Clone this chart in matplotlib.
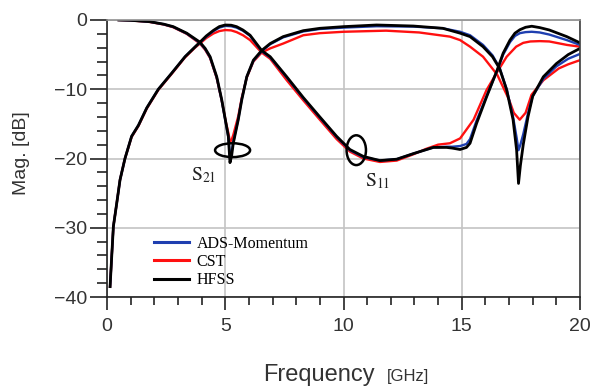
import numpy as np
import matplotlib.pyplot as plt
from matplotlib.patches import Ellipse
from matplotlib.ticker import MultipleLocator

plt.rcParams['font.family'] = ['Liberation Sans', 'DejaVu Sans']
plt.rcParams['mathtext.fontset'] = 'stix'

# S21 (curve starting at 0 dB) -- HFSS, ADS, CST
s21_hfss_f = [0.5, 1.0, 1.8, 2.4, 2.8, 3.37, 3.93, 4.15, 4.36, 4.64, 4.85, 5.03, 5.13, 5.2, 5.27,
              5.34, 5.55, 5.7, 5.91, 6.19, 6.54, 6.9, 7.45, 8.3, 9.0, 10.0, 11.4, 12.95, 14.2,
              14.93, 15.35, 15.9, 16.3, 16.6, 16.9, 17.17, 17.32, 17.4, 17.48, 17.6, 17.8, 18.0,
              18.45, 19.0, 19.5, 20.0]
s21_hfss_db = [0.0, -0.05, -0.24, -0.6, -0.96, -1.9, -3.2, -4.1, -5.3, -8.2, -11.5, -14.9, -16.8,
               -20.6, -19.6, -17.8, -14.4, -11.5, -8.2, -5.8, -4.4, -3.4, -2.4, -1.54, -1.2, -0.96,
               -0.72, -0.87, -1.2, -1.9, -2.4, -3.85, -5.3, -7.0, -10.1, -14.4, -18.8, -23.6,
               -21.0, -18.0, -14.0, -11.0, -8.2, -6.3, -5.0, -4.1]
s21_ads_db = [0.0, -0.05, -0.25, -0.62, -1.0, -1.95, -3.3, -4.2, -5.4, -8.3, -11.6, -15.0, -16.9,
              -19.7, -19.0, -17.6, -14.3, -11.4, -8.2, -5.9, -4.5, -3.5, -2.5, -1.65, -1.3, -1.1,
              -0.9, -0.95, -1.2, -1.7, -2.2, -3.6, -5.1, -6.9, -10.0, -14.0, -17.0, -18.8, -18.0,
              -16.5, -13.5, -11.0, -8.5, -6.7, -5.6, -4.9]
s21_cst_f = [0.5, 1.0, 1.8, 2.4, 2.8, 3.37, 3.93, 4.15, 4.36, 4.64, 4.85, 5.03, 5.13, 5.2, 5.27,
             5.34, 5.55, 5.7, 5.91, 6.19, 6.54, 6.9, 7.45, 8.3, 9.0, 10.0, 11.8, 13.2, 14.5, 14.93,
             15.35, 15.9, 16.5, 17.0, 17.2, 17.45, 17.7, 17.95, 18.45, 19.1, 19.5, 20.0]
s21_cst_db = [0.0, -0.06, -0.28, -0.65, -1.05, -2.0, -3.4, -4.3, -5.5, -8.4, -11.6, -14.8, -16.3,
              -17.6, -17.3, -16.6, -13.9, -11.2, -8.3, -6.0, -4.7, -4.1, -3.4, -2.2, -1.9, -1.7,
              -1.54, -1.8, -2.4, -2.9, -3.85, -5.3, -7.9, -11.5, -13.4, -14.4, -13.4, -10.8, -8.7,
              -7.0, -6.4, -5.8]

# S11 (curve starting near -38 dB) -- HFSS, ADS, CST
s11_hfss_f = [0.13, 0.2, 0.27, 0.41, 0.55, 0.76, 1.04, 1.33, 1.68, 2.17, 2.73, 3.3, 3.72, 3.93,
              4.2, 4.5, 4.75, 5.0, 5.25, 5.48, 5.75, 6.05, 6.54, 6.9, 7.6, 8.3, 9.0, 9.71, 10.27,
              10.84, 11.54, 12.25, 12.95, 13.8, 14.36, 14.6, 14.93, 15.2, 15.35, 15.63, 16.05,
              16.5, 16.75, 17.04, 17.25, 17.46, 17.7, 17.96, 18.3, 18.7, 19.44, 20.0]
s11_hfss_db = [-38.5, -34.1, -29.8, -26.5, -23.1, -20.0, -16.8, -15.2, -12.7, -10.0, -7.7, -5.3,
               -3.9, -3.2, -2.3, -1.5, -0.95, -0.72, -0.75, -0.96, -1.45, -2.2, -4.4, -5.3, -8.2,
               -11.2, -14.0, -16.8, -18.7, -19.7, -20.3, -20.1, -19.3, -18.4, -18.4, -18.5, -18.7,
               -18.4, -17.8, -14.9, -11.1, -7.2, -4.8, -2.9, -1.9, -1.4, -1.05, -0.9, -1.1, -1.44,
               -2.4, -3.3]
s11_ads_db = [-38.5, -34.1, -29.8, -26.5, -23.1, -20.0, -16.8, -15.2, -12.7, -10.0, -7.7, -5.3,
              -3.9, -3.25, -2.4, -1.6, -1.1, -0.85, -0.9, -1.1, -1.55, -2.3, -4.5, -5.4, -8.3,
              -11.3, -14.1, -16.9, -18.8, -19.8, -20.3, -20.1, -19.3, -18.4, -18.3, -18.3, -18.2,
              -17.9, -17.2, -14.5, -11.0, -7.3, -5.0, -3.2, -2.3, -1.9, -1.75, -1.7, -1.8, -2.1,
              -2.9, -3.6]
s11_cst_f = [0.13, 0.2, 0.27, 0.41, 0.55, 0.76, 1.04, 1.33, 1.68, 2.17, 2.73, 3.3, 3.72, 3.93,
             4.2, 4.5, 4.75, 5.0, 5.25, 5.48, 5.75, 6.05, 6.54, 6.9, 7.6, 8.3, 9.0, 9.71, 10.27,
             10.84, 11.54, 12.25, 12.95, 13.5, 14.0, 14.5, 14.93, 15.5, 16.05, 16.5, 16.9, 17.3,
             17.6, 17.9, 18.3, 18.7, 19.45, 20.0]
s11_cst_db = [-38.5, -34.1, -29.8, -26.5, -23.1, -20.0, -16.9, -15.3, -12.8, -10.1, -7.8, -5.4,
              -4.0, -3.4, -2.6, -1.95, -1.6, -1.45, -1.5, -1.75, -2.2, -2.9, -4.7, -5.6, -8.7,
              -11.6, -14.4, -17.2, -19.0, -20.0, -20.5, -20.3, -19.4, -18.6, -18.0, -17.8, -17.1,
              -14.4, -10.1, -7.5, -5.3, -3.85, -3.3, -3.1, -3.05, -3.1, -3.6, -3.85]

labels = ['ADS-Momentum', 'CST', 'HFSS']
colors = ['#1f3fb0', '#ff1010', '#000000']

fig = plt.figure(figsize=(5.9, 3.87), dpi=100)
ax = fig.add_axes([107 / 590, 90 / 387, 473 / 590, 277 / 387])

# red first, black on top
ax.plot(s21_cst_f, s21_cst_db, color=colors[1], lw=1.7)
ax.plot(s11_cst_f, s11_cst_db, color=colors[1], lw=1.7, label=labels[1])
ax.plot(s21_hfss_f, s21_ads_db, color=colors[0], lw=1.7)
ax.plot(s11_hfss_f, s11_ads_db, color=colors[0], lw=1.7, label=labels[0])
ax.plot(s21_hfss_f, s21_hfss_db, color=colors[2], lw=2.0)
ax.plot(s11_hfss_f, s11_hfss_db, color=colors[2], lw=2.0, label=labels[2])

# annotations
ax.add_patch(Ellipse((5.31, -18.8), 1.48, 2.0, fill=False, ec='black', lw=1.8, zorder=5))
ax.add_patch(Ellipse((10.54, -18.8), 0.82, 4.3, fill=False, ec='black', lw=1.8, zorder=5))
ax.text(4.1, -22.4, r'$\mathrm{S}_{21}$', fontsize=14, ha='center', va='center', color='#222222')
ax.text(11.44, -23.2, r'$\mathrm{S}_{11}$', fontsize=14, ha='center', va='center', color='#222222')

ax.set_xlim(0, 20)
ax.set_ylim(-40, 0)
ax.xaxis.set_major_locator(MultipleLocator(5))
ax.xaxis.set_minor_locator(MultipleLocator(1))
ax.yaxis.set_major_locator(MultipleLocator(10))
ax.yaxis.set_minor_locator(MultipleLocator(2))
ax.grid(True, which='major', color='#c4c4c4', lw=1.2)
ax.set_axisbelow(True)

ax.tick_params(axis='both', which='major', direction='out', labelsize=14, labelcolor='#333333',
               color='#222222', width=1.2)
ax.tick_params(axis='x', which='major', length=9, pad=6)
ax.tick_params(axis='x', which='minor', direction='out', length=6, width=1.2, color='#222222')
ax.tick_params(axis='y', which='major', length=12, pad=2)
ax.tick_params(axis='y', which='minor', direction='out', length=7, width=1.2, color='#222222')

for side in ['left', 'bottom']:
    ax.spines[side].set_color('#222222')
    ax.spines[side].set_linewidth(1.2)
ax.spines['top'].set_color('#909090')
ax.spines['top'].set_linewidth(1.2)
ax.spines['right'].set_color('#404040')
ax.spines['right'].set_linewidth(1.2)

handles, labs = ax.get_legend_handles_labels()
order = [labs.index(l) for l in labels]
leg = ax.legend([handles[i] for i in order], [labs[i] for i in order],
                loc='upper left', bbox_to_anchor=(0.1, 0.222), frameon=False,
                prop={'family': 'Liberation Serif', 'size': 11.5}, handlelength=2.2,
                handletextpad=0.45, labelspacing=0.15, borderpad=0, borderaxespad=0)
for line in leg.get_lines():
    line.set_linewidth(2.2)

fig.text(22 / 590, 1 - 153 / 387, 'Mag. [dB]', rotation=90, fontsize=14, color='#333333',
         ha='center', va='center')
fig.text(263 / 590, 6 / 387, 'Frequency', fontsize=17, color='#333333', ha='left', va='baseline')
fig.text(387 / 590, 6 / 387, '[GHz]', fontsize=12, color='#333333', ha='left', va='baseline')

fig.savefig('out.png', dpi=100)
